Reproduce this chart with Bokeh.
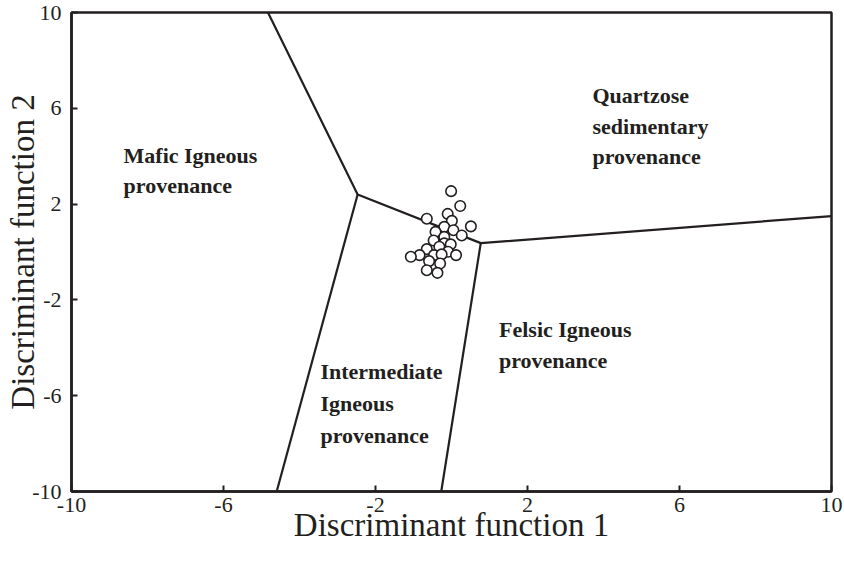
from bokeh.plotting import figure
from bokeh.models import Range1d, FixedTicker, ColumnDataSource, CustomJSTickFormatter
from bokeh.core.properties import value
from bokeh.embed import file_html
from bokeh.resources import INLINE

# Discriminant function scores of the samples
df1 = [-0.01, 0.23, -0.10, -0.65, 0.01, 0.51, -0.19, -0.42, 0.05, 0.27,
       -0.19, -0.47, -0.19, -0.02, -0.32, -0.65, -0.09, 0.12, -0.46, -0.26,
       -0.84, -1.07, -0.59, -0.30, -0.65, -0.37]
df2 = [2.54, 1.92, 1.59, 1.39, 1.30, 1.07, 1.05, 0.84, 0.91, 0.69,
       0.63, 0.48, 0.36, 0.32, 0.22, 0.12, 0.01, -0.13, -0.13, -0.10,
       -0.13, -0.20, -0.38, -0.48, -0.76, -0.87]

# Field boundaries of the provenance diagram
boundary_xs = [[-4.83, -2.47, 0.77, 10.0], [-2.47, -4.6], [0.77, -0.27]]
boundary_ys = [[10.0, 2.40, 0.37, 1.50], [2.40, -10.0], [0.37, -10.0]]

# Field names, one entry per text line (left edge, baseline)
field_text = ["Quartzose", "sedimentary", "provenance",
              "Mafic Igneous", "provenance",
              "Felsic Igneous", "provenance",
              "Intermediate", "Igneous", "provenance"]
field_x = [3.71, 3.71, 3.71,
           -8.63, -8.63,
           1.25, 1.25,
           -3.45, -3.45, -3.45]
field_y = [6.55, 5.25, 3.97,
           4.02, 2.76,
           -3.22, -4.52,
           -5.00, -6.33, -7.65]

ticks = [-10, -6, -2, 2, 6, 10]

ink = "#231f20"
serif = "Liberation Serif"

p = figure(width=844, height=561, output_backend="svg", toolbar_location=None,
           x_range=Range1d(-10, 10), y_range=Range1d(-10, 10),
           min_border_left=71, min_border_right=13,
           min_border_top=12, min_border_bottom=70)
p.xgrid.visible = False
p.ygrid.visible = False
p.background_fill_color = "white"
p.border_fill_color = "white"
p.outline_line_color = ink
p.outline_line_width = 2.5

for ax in (p.xaxis[0], p.yaxis[0]):
    ax.ticker = FixedTicker(ticks=ticks)
    ax.formatter = CustomJSTickFormatter(code="return tick.toString();")
    ax.axis_line_color = ink
    ax.axis_line_width = 2.5
    ax.major_tick_in = 6
    ax.major_tick_out = 0
    ax.major_tick_line_color = ink
    ax.major_tick_line_width = 2
    ax.minor_tick_line_color = None
    ax.major_label_text_font = serif
    ax.major_label_text_font_size = "22px"
    ax.major_label_text_color = ink
    ax.axis_label_text_font = serif
    ax.axis_label_text_font_size = "33px"
    ax.axis_label_text_font_style = "normal"
    ax.axis_label_text_color = ink

p.xaxis.axis_label = "Discriminant function 1"
p.yaxis.axis_label = "Discriminant function 2"
p.xaxis.major_label_standoff = 6
p.yaxis.major_label_standoff = 10
p.xaxis.axis_label_standoff = -8
p.yaxis.axis_label_standoff = -12

p.multi_line(xs=boundary_xs, ys=boundary_ys, line_color=ink, line_width=2.2)

labels = ColumnDataSource(dict(x=field_x, y=field_y, t=field_text))
p.text(x="x", y="y", text="t", source=labels,
       text_font=value(serif), text_font_style="bold",
       text_font_size="22px", text_color=ink,
       text_align="left", text_baseline="alphabetic")

p.scatter(df1, df2, size=10.5, fill_color="white", line_color=ink, line_width=1.6)

open("out.html", "w").write(file_html(p, INLINE))
